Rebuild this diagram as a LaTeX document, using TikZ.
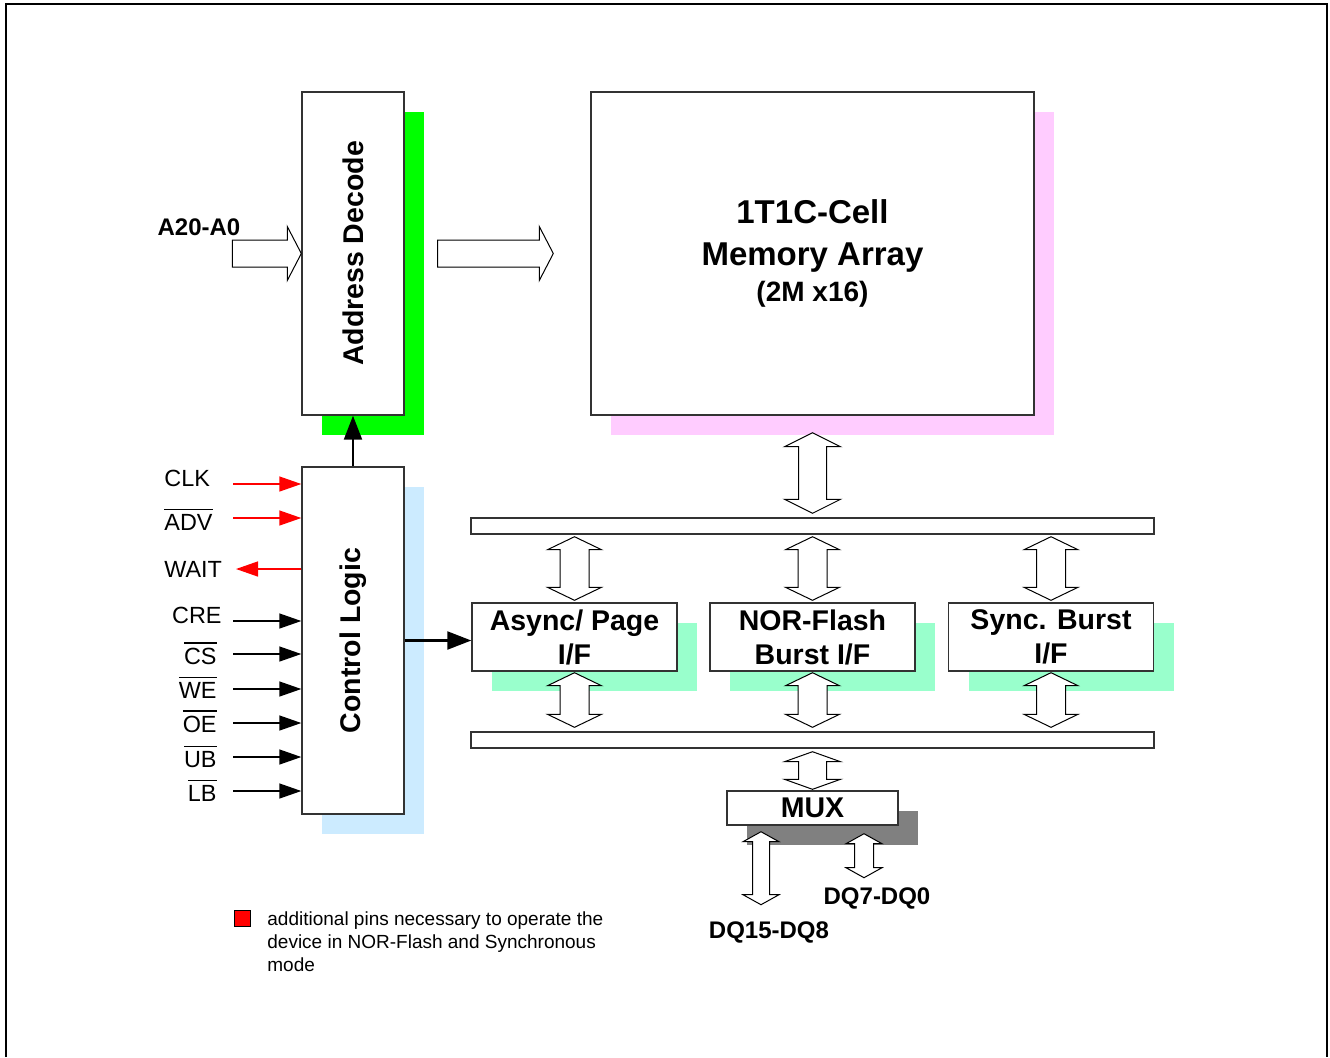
\documentclass[tikz,border=0pt]{standalone}
\usepackage{fontspec}
\setmainfont{Liberation Sans}
\usepackage{tikz}
\usetikzlibrary{calc,shadows,arrows.meta}

\newcommand\ovl[1]{\leavevmode\vbox{\hrule height 0.6pt\kern2pt\hbox{#1}}}
% fat double arrow: top tip, bottom tip, head half width, shaft half width, head length
\newcommand\busarrow[5]{\draw[fatarrow] (#1) -- ($(#1)+(#3,#5)$) -- ($(#1)+(#4,#5)$)
	-- ($(#2)+(#4,-#5)$) -- ($(#2)+(#3,-#5)$) -- (#2) -- ($(#2)+(-#3,-#5)$)
	-- ($(#2)+(-#4,-#5)$) -- ($(#1)+(-#4,#5)$) -- ($(#1)+(-#3,#5)$) -- cycle;}
% fat single arrow: tail, tip, head half width, shaft half width, head length
\newcommand\inarrow[5]{\draw[fatarrow] ($(#1)+(0,-#4)$) -- ($(#2)+(-#5,-#4)$)
	-- ($(#2)+(-#5,-#3)$) -- (#2) -- ($(#2)+(-#5,#3)$) -- ($(#2)+(-#5,#4)$)
	-- ($(#1)+(0,#4)$) -- cycle;}

\definecolor{decodegreen}{HTML}{00FF00}
\definecolor{logicblue}{HTML}{CCEBFF}
\definecolor{arraypink}{HTML}{FFCCFF}
\definecolor{ifmint}{HTML}{99FFCC}
\definecolor{muxgray}{HTML}{808080}

\tikzset{block style/.style={
		draw=black!80,
		line width=0.7pt,
		fill=white,
		inner sep=0pt,
		align=center,
		font=\bfseries\fontsize{14.25}{17}\selectfont,
	},
	box shadow/.style={
		drop shadow={shadow xshift=10pt, shadow yshift=-10pt, fill=#1, opacity=1}
	},
	bus style/.style={
		draw=black!80,
		line width=0.7pt,
		fill=white,
		minimum width=341.5pt,
		minimum height=8pt,
		inner sep=0pt,
	},
	fatarrow/.style={
		draw=black,
		line width=0.5pt,
		fill=white,
	},
	sigline/.style={
		line width=0.7pt,
		-{Triangle[length=11pt,width=7.5pt]}
	},
	ctrlline/.style={
		line width=1.1pt,
		-{Triangle[length=12pt,width=9pt]}
	},
	sigtext/.style={
		inner sep=0pt,
		font=\fontsize{11.7}{14}\selectfont
	},
	dqtext/.style={
		inner sep=0pt,
		font=\bfseries\fontsize{12}{14}\selectfont
	}
}

\begin{document}
\begin{tikzpicture}[x=0.5pt,y=-0.5pt]
	\useasboundingbox (0,0) rectangle (1330,1057);
	\draw[line width=0.8pt] (6,1057) -- (6,4) -- (1327,4) -- (1327,1057);

	\node[block style, box shadow=decodegreen, minimum width=51pt, minimum height=161.5pt] (adec) at (353,253.5) {\rotatebox{90}{Address Decode}};
	\node[block style, box shadow=logicblue, minimum width=51pt, minimum height=173.5pt] (ctrl) at (353,640.5) {\rotatebox{90}{Control Logic}};
	\node[block style, box shadow=arraypink, minimum width=221.5pt, minimum height=161.5pt,
		font=\bfseries\fontsize{16.5}{21}\selectfont] (mem) at (812.5,253.5)
		{1T1C-Cell\\Memory Array\\[-3pt]\fontsize{14}{21}\selectfont (2M x16)};

	\node[bus style] (bus1) at (812.5,526) {};
	\node[bus style] (bus2) at (812.5,740) {};

	\node[block style, box shadow=ifmint, minimum width=102.5pt, minimum height=34pt] (async) at (574.5,637) {Async/ Page\\I/F};
	\node[block style, box shadow=ifmint, minimum width=102.5pt, minimum height=34pt] (nor) at (812.5,637) {NOR-Flash\\Burst I/F};
	\node[block style, box shadow=ifmint, minimum width=102.5pt, minimum height=34pt] (sync) at (1051,637) {Sync. Burst\\I/F};

	\node[block style, box shadow=muxgray, minimum width=85.5pt, minimum height=17pt] (mux) at (812.5,808) {MUX};

	% address path
	\node[dqtext] (a20) at (199,227) {A20-A0};
	\coordinate (addr) at ($(adec.west)+(-69,0)$);
	\inarrow{addr}{adec.west}{27}{13.5}{14}
	\coordinate (row) at ($(adec.east)+(33,0)$);
	\coordinate (rowtip) at ($(mem.west)+(-37,0)$);
	\inarrow{row}{rowtip}{27}{13.5}{14}

	% data buses
	\coordinate (m1) at ($(mem.south)+(0,17)$);
	\coordinate (m2) at ($(bus1.north)+(0,-4)$);
	\busarrow{m1}{m2}{28}{14}{14}
	\foreach \f in {async,nor,sync}{
		\coordinate (\f-a) at ($(\f.north |- bus1.south)+(0,2)$);
		\coordinate (\f-b) at ($(\f.north)+(0,-2)$);
		\busarrow{\f-a}{\f-b}{27}{14.5}{13}
		\coordinate (\f-c) at ($(\f.south)+(0,1)$);
		\coordinate (\f-d) at ($(\f.south |- bus2.north)+(0,-4)$);
		\busarrow{\f-c}{\f-d}{27}{14.5}{13}
	}
	\coordinate (x1) at ($(bus2.south)+(0,3)$);
	\coordinate (x2) at ($(mux.north)+(0,-1)$);
	\busarrow{x1}{x2}{28}{14}{10}

	\coordinate (hi1) at ($(mux.south)+(-51.5,6)$);
	\coordinate (hi2) at ($(hi1)+(0,73)$);
	\busarrow{hi1}{hi2}{18}{8.5}{10}
	\coordinate (lo1) at ($(mux.south)+(51.5,8)$);
	\coordinate (lo2) at ($(lo1)+(0,44)$);
	\busarrow{lo1}{lo2}{18}{9.5}{10}
	\node[dqtext] (dqlo) at (877,898) {DQ7-DQ0};
	\node[dqtext] (dqhi) at (769,932) {DQ15-DQ8};

	% control signals
	\draw[ctrlline] (ctrl.north) -- (adec.south);
	\draw[ctrlline] (ctrl.east) -- (ctrl.east -| async.west);

	\coordinate (clk) at (233,484);
	\coordinate (adv) at (233,518);
	\coordinate (wait) at (236,569);
	\draw[sigline, red] (clk) -- (clk -| ctrl.west);
	\draw[sigline, red] (adv) -- (adv -| ctrl.west);
	\draw[sigline, red] (wait -| ctrl.west) -- (wait);
	\node[sigtext, anchor=base west] (clkt) at (164,486) {CLK};
	\node[sigtext, anchor=base west] (advt) at (164,530) {\ovl{ADV}};
	\node[sigtext, anchor=base west] (waitt) at (164,577) {WAIT};

	\foreach \n/\py in {cre/621, cs/654, we/689, oe/723, ub/757, lb/791}{
		\coordinate (\n) at (233,\py);
		\draw[sigline] (\n) -- (\n -| ctrl.west);
	}
	\node[sigtext, anchor=base east] (cret) at (222,623) {CRE};
	\node[sigtext, anchor=base east] (cst) at (217,664) {\ovl{CS}};
	\node[sigtext, anchor=base east] (wet) at (217,698) {\ovl{WE}};
	\node[sigtext, anchor=base east] (oet) at (217,732) {\ovl{OE}};
	\node[sigtext, anchor=base east] (ubt) at (217,767) {\ovl{UB}};
	\node[sigtext, anchor=base east] (lbt) at (217,801) {\ovl{LB}};

	% legend
	\node[draw=black, line width=0.5pt, fill=red, minimum size=8pt, inner sep=0pt] (key) at (242,918.5) {};
	\node[anchor=north west, inner sep=0pt, align=left, font=\fontsize{9.5}{11.5}\selectfont] (note) at (267,911)
		{additional pins necessary to operate the\\device in NOR-Flash and Synchronous\\mode};
\end{tikzpicture}
\end{document}
